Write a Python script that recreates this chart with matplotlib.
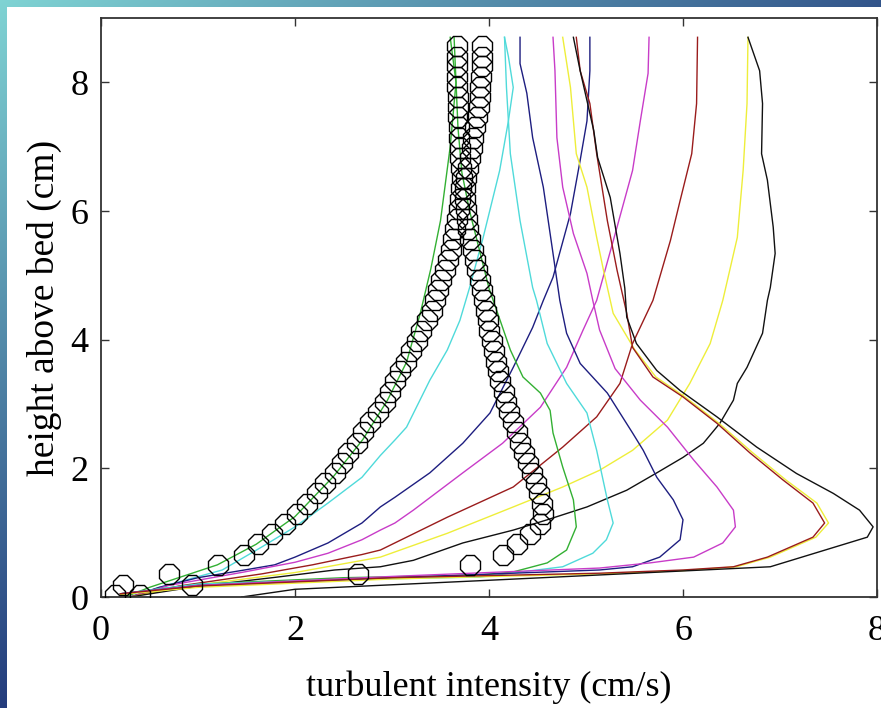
import numpy as np
import matplotlib
matplotlib.use("Agg")
import matplotlib.pyplot as plt
from matplotlib.patches import Rectangle

# ---- measured profiles: turbulent intensity (cm/s) vs height above bed (cm) ----
# circles: two measured profiles
circle_h = [0.03, 0.19, 0.35, 0.5, 0.66, 0.82, 0.98, 1.14, 1.29, 1.45, 1.61, 1.77,
            1.93, 2.08, 2.24, 2.4, 2.56, 2.72, 2.87, 3.03, 3.19, 3.35, 3.51, 3.66,
            3.82, 3.98, 4.14, 4.3, 4.45, 4.61, 4.77, 4.93, 5.09, 5.24, 5.4, 5.56,
            5.72, 5.88, 6.03, 6.19, 6.35, 6.51, 6.67, 6.82, 6.98, 7.14, 7.3, 7.46,
            7.61, 7.77, 7.93, 8.09, 8.25, 8.4, 8.56]
circle_rise_x = [0.4, 0.23, 0.7, 1.21, 1.47, 1.62, 1.76, 1.9, 2.02, 2.12, 2.23, 2.31,
                 2.41, 2.48, 2.55, 2.64, 2.7, 2.77, 2.86, 2.93, 2.98, 3.03, 3.08, 3.14,
                 3.2, 3.26, 3.3, 3.36, 3.41, 3.44, 3.47, 3.5, 3.55, 3.58, 3.61, 3.63,
                 3.65, 3.67, 3.69, 3.7, 3.71, 3.72, 3.71, 3.7, 3.7, 3.69, 3.69, 3.68,
                 3.68, 3.68, 3.67, 3.67, 3.67, 3.67, 3.67]
circle_peak_x = [0.14, 0.94, 2.65, 3.8, 4.14, 4.29, 4.42, 4.53, 4.56, 4.55, 4.52, 4.48,
                 4.44, 4.4, 4.36, 4.32, 4.29, 4.25, 4.21, 4.18, 4.15, 4.11, 4.09, 4.07,
                 4.05, 4.03, 4.0, 3.99, 3.97, 3.95, 3.93, 3.91, 3.88, 3.86, 3.83, 3.8,
                 3.78, 3.77, 3.76, 3.75, 3.75, 3.76, 3.78, 3.8, 3.82, 3.84, 3.86, 3.88,
                 3.9, 3.91, 3.91, 3.92, 3.93, 3.93, 3.93]

# modelled profiles growing away from the bed
green_rise_x = [0.25, 0.5, 0.8, 1.2, 1.6, 2.0, 2.4, 2.7, 2.95, 3.15, 3.29, 3.4, 3.5, 3.6, 3.66, 3.6]
green_rise_h = [0.0, 0.15, 0.3, 0.5, 0.82, 1.25, 1.88, 2.45, 3.05, 3.65, 4.4, 5.1, 5.85, 7.0, 8.0, 8.7]
cyan_rise_x = [0.3, 0.6, 1.25, 1.66, 2.0, 2.34, 2.69, 2.88, 3.03, 3.15, 3.39, 3.57, 3.7, 3.8, 3.94, 4.11, 4.2, 4.25, 4.2, 4.16]
cyan_rise_h = [0.0, 0.15, 0.42, 0.78, 1.09, 1.46, 1.86, 2.2, 2.44, 2.64, 3.37, 3.84, 4.3, 4.81, 5.59, 6.63, 7.4, 7.92, 8.4, 8.7]
navy_rise_x = [0.3, 0.6, 1.0, 1.48, 1.79, 2.0, 2.34, 2.69, 2.88, 3.03, 3.39, 3.73, 4.01, 4.25, 4.45, 4.56, 4.66, 4.84, 4.94, 5.01, 5.04, 5.04]
navy_rise_h = [0.0, 0.15, 0.3, 0.42, 0.5, 0.62, 0.84, 1.15, 1.4, 1.55, 1.93, 2.39, 2.86, 3.57, 4.19, 4.61, 4.97, 5.96, 6.79, 7.4, 8.18, 8.7]
magenta_rise_x = [0.3, 0.7, 1.48, 2.0, 2.34, 2.69, 2.88, 3.03, 3.22, 3.73, 4.14, 4.53, 4.8, 4.97, 5.11, 5.32, 5.48, 5.56, 5.64, 5.65]
magenta_rise_h = [0.0, 0.18, 0.39, 0.54, 0.68, 0.89, 1.04, 1.15, 1.35, 1.93, 2.39, 2.95, 3.57, 4.15, 4.61, 5.75, 6.63, 7.4, 8.14, 8.7]
red_rise_x = [0.3, 0.8, 1.66, 2.18, 2.69, 2.88, 3.57, 4.25, 4.76, 5.11, 5.35, 5.48, 5.69, 5.87, 5.97, 6.09, 6.14, 6.15]
red_rise_h = [0.0, 0.17, 0.36, 0.5, 0.66, 0.73, 1.24, 1.71, 2.33, 2.8, 3.32, 3.94, 4.61, 5.54, 6.16, 6.89, 7.67, 8.7]
yellow_rise_x = [0.3, 0.9, 2.0, 2.88, 3.57, 4.25, 4.76, 5.14, 5.48, 5.84, 6.07, 6.28, 6.41, 6.56, 6.62, 6.66, 6.67]
yellow_rise_h = [0.0, 0.17, 0.38, 0.62, 0.99, 1.4, 1.71, 1.97, 2.28, 2.75, 3.32, 3.94, 4.61, 5.59, 6.63, 7.67, 8.7]
black_rise_x = [0.3, 0.97, 1.82, 2.41, 2.88, 3.22, 3.73, 4.25, 4.6, 5.01, 5.42, 5.73, 6.0, 6.21, 6.38, 6.52,
                6.56, 6.66, 6.82, 6.87, 6.9, 6.95, 6.93, 6.87, 6.81, 6.82, 6.79, 6.67]
black_rise_h = [0.0, 0.16, 0.31, 0.42, 0.47, 0.57, 0.84, 1.04, 1.2, 1.4, 1.66, 1.93, 2.17, 2.39, 2.7, 3.06,
                3.32, 3.57, 4.1, 4.61, 4.81, 5.34, 5.75, 6.48, 6.89, 7.67, 8.18, 8.7]

# modelled profiles with a near-bed peak
green_peak_x = [0.2, 1.0, 2.5, 3.9, 4.25, 4.6, 4.8, 4.9, 4.87, 4.76, 4.66, 4.63, 4.53, 4.35, 4.22, 4.14,
                4.0, 3.9, 3.8, 3.72, 3.68, 3.66, 3.64]
green_peak_h = [0.05, 0.2, 0.3, 0.34, 0.39, 0.53, 0.73, 1.09, 1.51, 2.02, 2.55, 2.9, 3.17, 3.42, 3.84, 4.19,
                4.8, 5.4, 6.0, 6.6, 7.3, 8.0, 8.7]
cyan_peak_x = [0.2, 1.0, 2.5, 3.91, 4.76, 5.07, 5.21, 5.28, 5.22, 5.11, 5.01, 4.8, 4.6, 4.49, 4.45, 4.32, 4.22, 4.18, 4.16]
cyan_peak_h = [0.05, 0.2, 0.27, 0.31, 0.47, 0.68, 0.89, 1.15, 1.51, 2.28, 2.86, 3.32, 3.94, 4.61, 4.81, 5.85, 6.89, 7.92, 8.7]
navy_peak_x = [0.2, 1.0, 3.0, 5.14, 5.48, 5.76, 5.97, 6.0, 5.9, 5.73, 5.59, 5.48, 5.22, 4.94, 4.8, 4.73,
               4.66, 4.56, 4.45, 4.39, 4.32, 4.32]
navy_peak_h = [0.05, 0.18, 0.3, 0.42, 0.47, 0.62, 0.89, 1.2, 1.51, 1.86, 2.28, 2.55, 3.17, 3.63, 4.1, 4.61,
               5.34, 6.37, 7.14, 7.83, 8.29, 8.7]
magenta_peak_x = [0.2, 1.0, 3.0, 5.14, 5.66, 6.11, 6.41, 6.54, 6.52, 6.35, 6.11, 5.84, 5.56, 5.3, 5.14,
                  5.07, 5.01, 4.87, 4.76, 4.7, 4.68, 4.66]
magenta_peak_h = [0.05, 0.18, 0.32, 0.45, 0.53, 0.62, 0.84, 1.09, 1.35, 1.71, 2.13, 2.64, 3.06, 3.55, 4.15,
                  4.61, 5.03, 5.65, 6.37, 7.14, 8.18, 8.7]
yellow_peak_x = [0.2, 1.0, 3.0, 5.14, 6.0, 6.55, 6.9, 7.37, 7.5, 7.38, 7.06, 6.72, 6.37, 6.02, 5.72, 5.5,
                 5.28, 5.18, 5.11, 5.01, 4.9, 4.84, 4.76]
yellow_peak_h = [0.04, 0.15, 0.28, 0.36, 0.41, 0.47, 0.62, 0.93, 1.15, 1.46, 1.82, 2.24, 2.7, 3.11, 3.42, 3.85,
                 4.41, 5.08, 5.59, 6.37, 6.89, 7.92, 8.7]
red_peak_x = [0.2, 1.0, 3.0, 5.14, 6.0, 6.52, 6.87, 7.34, 7.46, 7.34, 7.03, 6.69, 6.35, 6.0, 5.69, 5.48,
              5.42, 5.32, 5.22, 5.11, 5.04, 4.94, 4.9]
red_peak_h = [0.05, 0.17, 0.3, 0.37, 0.42, 0.47, 0.62, 0.93, 1.15, 1.46, 1.82, 2.24, 2.7, 3.11, 3.42, 3.88,
              4.41, 5.08, 5.85, 6.89, 7.67, 8.18, 8.7]
black_peak_x = [1.45, 2.0, 4.0, 6.9, 7.9, 7.96, 7.82, 7.55, 7.17, 6.76, 6.35, 5.97, 5.73, 5.52, 5.42, 5.4,
                5.35, 5.25, 5.12, 5.08, 4.94, 4.87]
black_peak_h = [0.0, 0.12, 0.26, 0.47, 0.93, 1.09, 1.35, 1.61, 1.92, 2.33, 2.8, 3.21, 3.52, 3.94, 4.35, 4.8,
                5.34, 6.21, 6.83, 7.25, 8.18, 8.7]

x_ticks = [0, 2, 4, 6, 8]
y_ticks = [0, 2, 4, 6, 8]

GREEN, CYAN, NAVY = "#33b033", "#4fdada", "#1e1e80"
MAGENTA, RED, YELLOW, BLACK = "#c83cc8", "#9a1c1c", "#eeee3a", "#111111"

W, H = 881, 708
fig = plt.figure(figsize=(W / 100, H / 100), dpi=100)

# slide-style backdrop: blue gradient frame with white panel
bg = fig.add_axes([0, 0, 1, 1])
yy, xx = np.mgrid[0:H, 0:W]
t = np.clip(0.9 * yy / H + 0.75 * xx / W, 0, 1)[..., None]
c0 = np.array([0.50, 0.83, 0.83])
c1 = np.array([0.10, 0.17, 0.45])
bg.imshow(c0 * (1 - t) + c1 * t, extent=[0, W, H, 0], aspect="auto", interpolation="bilinear")
bg.add_patch(Rectangle((7, 7), W - 7, H - 7, facecolor="white", edgecolor="none"))
bg.set_xlim(0, W)
bg.set_ylim(H, 0)
bg.axis("off")

ax = fig.add_axes([101 / W, 1 - 597 / H, 776 / W, 579 / H])
ax.set_facecolor("white")

lw = 1.0
for x, h, c in [(green_rise_x, green_rise_h, GREEN), (cyan_rise_x, cyan_rise_h, CYAN),
                (navy_rise_x, navy_rise_h, NAVY), (magenta_rise_x, magenta_rise_h, MAGENTA),
                (red_rise_x, red_rise_h, RED), (yellow_rise_x, yellow_rise_h, YELLOW),
                (black_rise_x, black_rise_h, BLACK),
                (green_peak_x, green_peak_h, GREEN), (cyan_peak_x, cyan_peak_h, CYAN),
                (navy_peak_x, navy_peak_h, NAVY), (magenta_peak_x, magenta_peak_h, MAGENTA),
                (yellow_peak_x, yellow_peak_h, YELLOW), (red_peak_x, red_peak_h, RED),
                (black_peak_x, black_peak_h, BLACK)]:
    ax.plot(x, h, color=c, lw=lw, zorder=2)

for cx in (circle_rise_x, circle_peak_x):
    ax.plot(cx, circle_h, linestyle="none", marker="8", markersize=15,
            markerfacecolor="none", markeredgecolor="black", markeredgewidth=1.0, zorder=3)

ax.set_xlim(0, 8)
ax.set_ylim(0, 9)
ax.set_xticks(x_ticks)
ax.set_yticks(y_ticks)
serif = ["Liberation Serif", "DejaVu Serif"]
ax.set_xticklabels([str(v) for v in x_ticks], family=serif, fontsize=26)
ax.set_yticklabels([str(v) for v in y_ticks], family=serif, fontsize=26)
ax.tick_params(direction="in", length=6, width=1.0, top=True, right=True, color="#333333")
ax.tick_params(axis="x", pad=13)
ax.tick_params(axis="y", pad=9)
for s in ax.spines.values():
    s.set_linewidth(1.3)
    s.set_color("#333333")

ax.set_xlabel("turbulent intensity (cm/s)", family=serif, fontsize=26, labelpad=16)
ax.set_ylabel("height above bed (cm)", family=serif, fontsize=27, labelpad=6)

fig.savefig("out.png", dpi=100)
